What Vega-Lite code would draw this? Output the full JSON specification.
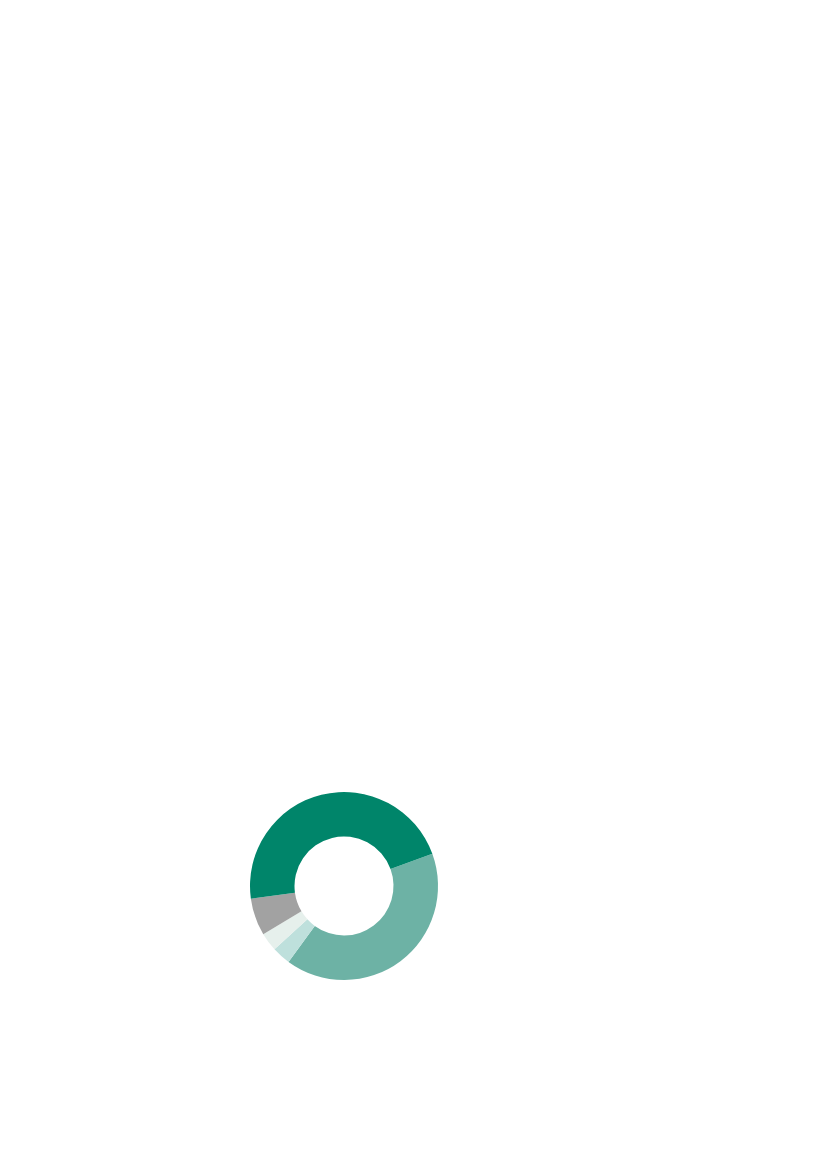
{
  "$schema": "https://vega.github.io/schema/vega-lite/v6.json",
  "width": 188,
  "height": 188,
  "padding": {"left": 250, "top": 792, "right": 389, "bottom": 189},
  "autosize": {"type": "none"},
  "background": "white",
  "view": {"stroke": null},
  "data": {
    "values": [
      {"category": "A", "value": 40.6, "order": 1},
      {"category": "B", "value": 3.2, "order": 2},
      {"category": "C", "value": 3.2, "order": 3},
      {"category": "D", "value": 6.4, "order": 4},
      {"category": "E", "value": 46.6, "order": 5}
    ]
  },
  "mark": {"type": "arc", "radius": 94, "radius2": 49.5, "stroke": null},
  "encoding": {
    "theta": {
      "field": "value",
      "type": "quantitative",
      "stack": true,
      "scale": {"range": [1.2217, 7.5049]}
    },
    "order": {"field": "order", "type": "quantitative"},
    "color": {
      "field": "category",
      "type": "nominal",
      "legend": null,
      "scale": {
        "domain": ["A", "B", "C", "D", "E"],
        "range": ["#6DB2A5", "#BEE0DC", "#E6F0EC", "#A2A2A2", "#00856A"]
      }
    }
  }
}
